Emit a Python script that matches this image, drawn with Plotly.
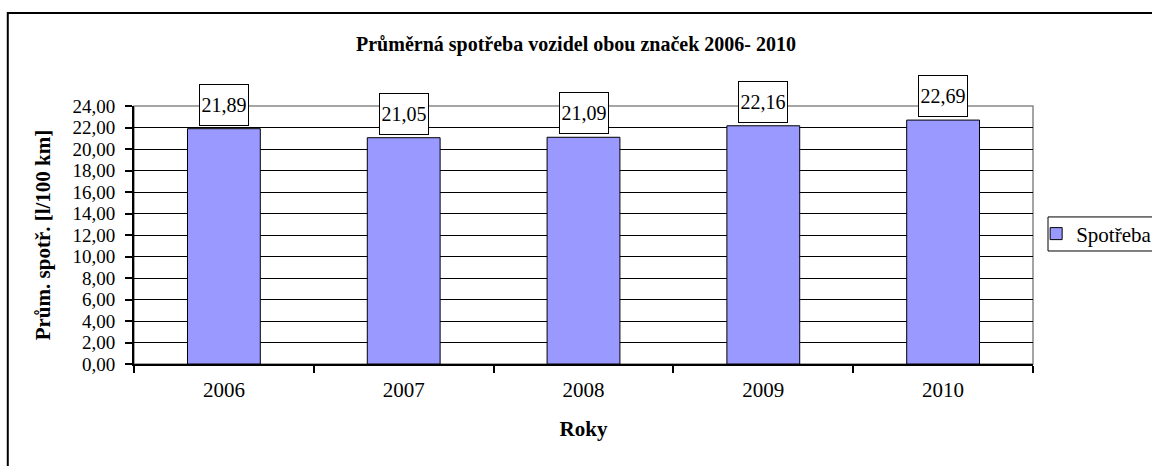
import plotly.graph_objects as go

# Average fuel consumption per year
years = ["2006", "2007", "2008", "2009", "2010"]
consumption = [21.89, 21.05, 21.09, 22.16, 22.69]
series_name = "Spotřeba"

chart_title = "Průměrná spotřeba vozidel obou značek 2006- 2010"
x_title = "Roky"
y_title = "Prům. spotř. [l/100 km]"

SERIF = "Liberation Serif, Times New Roman, serif"
BAR_COLOR = "#9999FF"
FS = 20
TICK_FS = 21
Y_TICK_FS = 19

fig = go.Figure()
fig.add_trace(go.Bar(
    x=years,
    y=consumption,
    name=series_name,
    width=0.405,
    marker=dict(color=BAR_COLOR, line=dict(color="black", width=1)),
    showlegend=True,
))

# Boxed value labels above each bar (x given as category index)
for i, val in enumerate(consumption):
    fig.add_annotation(
        x=i, y=val, xref="x", yref="y",
        text=f"{val:.2f}".replace(".", ","),
        showarrow=False,
        yanchor="bottom", yshift=3,
        width=48, height=40,
        bgcolor="white", bordercolor="black", borderwidth=1, borderpad=0,
        font=dict(family=SERIF, size=FS, color="black"),
    )

# Grey plot-area frame (top/right), axes in black drawn on top
fig.add_shape(type="rect", xref="paper", yref="paper", x0=0, x1=1, y0=0, y1=1,
              line=dict(color="#888888", width=1.5), layer="below")
# Outer chart frame
fig.add_shape(type="rect", xref="paper", yref="paper",
              x0=-0.1404, x1=1.25, y0=-0.6, y1=1.3605,
              line=dict(color="black", width=2), layer="below")
# Legend frame
fig.add_shape(type="rect", xref="paper", yref="paper",
              x0=1.0167, x1=1.2, y0=0.438, y1=0.570,
              line=dict(color="black", width=1), fillcolor="white", layer="below")

fig.update_layout(
    width=1152, height=466,
    margin=dict(l=134, r=119, t=106, b=102, autoexpand=False),
    paper_bgcolor="white", plot_bgcolor="white",
    separators=", ",
    font=dict(family=SERIF, size=FS, color="black"),
    title=dict(text=f"<b>{chart_title}</b>", x=0.5, xref="container",
               y=1 - 44 / 466, yref="container", yanchor="middle", xanchor="center",
               font=dict(family=SERIF, size=FS, color="black")),
    showlegend=True,
    legend=dict(x=1.0035, xanchor="left", y=0.504, yanchor="middle",
                borderwidth=0, bgcolor="rgba(0,0,0,0)",
                font=dict(family=SERIF, size=TICK_FS, color="black"),
                itemwidth=30),
)

fig.update_yaxes(
    range=[0, 24], dtick=2, tickformat=".2f",
    showgrid=True, gridcolor="black", gridwidth=1,
    showline=True, linecolor="black", linewidth=2,
    ticks="outside", ticklen=7, tickcolor="black", tickwidth=1.5,
    ticklabelstandoff=6,
    tickfont=dict(family=SERIF, size=Y_TICK_FS, color="black"),
    title=dict(text=f"<b>{y_title}</b>", standoff=16,
               font=dict(family=SERIF, size=21, color="black")),
    zeroline=False,
)
fig.update_xaxes(
    type="category", range=[-0.5, 4.5],
    showline=True, linecolor="black", linewidth=2,
    ticks="outside", tickson="boundaries", ticklen=7, tickcolor="black", tickwidth=1.5,
    ticklabelstandoff=6,
    tickfont=dict(family=SERIF, size=TICK_FS, color="black"),
    title=dict(text=f"<b>{x_title}</b>", standoff=20,
               font=dict(family=SERIF, size=21, color="black")),
)

fig.write_html("out.html")
